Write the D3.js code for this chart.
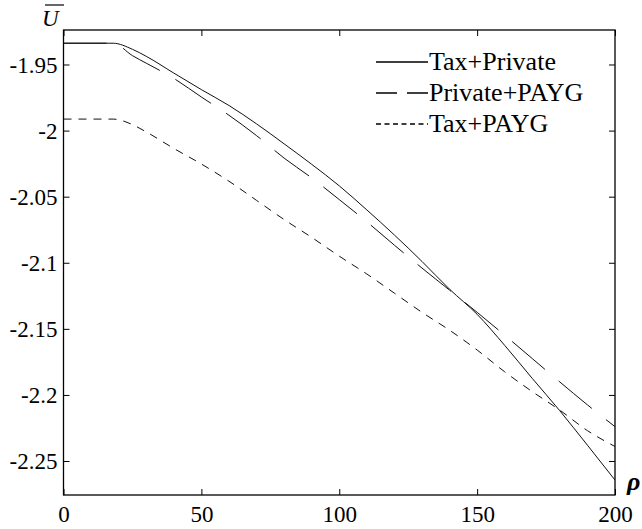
<!DOCTYPE html>
<html>
<head>
<meta charset="utf-8">
<script src="https://cdn.jsdelivr.net/npm/d3@7"></script>
<style>
    body { margin: 0; background: #fff; }
    svg { display: block; font-family: "Liberation Serif", "Times New Roman", Times, serif; }
</style>
</head>
<body>
<div id="chart"></div>
<script>
const rho = [0, 10, 18, 25, 30, 40, 50, 60, 70, 80, 90, 100, 110, 120, 130, 140, 150, 160, 170, 180, 190, 200];

const taxPrivate = [-1.9339, -1.9339, -1.9339, -1.9385, -1.9438, -1.9565, -1.9690, -1.9810, -1.9949, -2.0100,
    -2.0255, -2.0418, -2.0600, -2.0790, -2.0990, -2.1200, -2.1390, -2.1625, -2.1875, -2.2120, -2.2380, -2.2644];
const privatePayg = [-1.9339, -1.9339, -1.9339, -1.9433, -1.9490, -1.9605, -1.9746, -1.9884, -2.0038, -2.0208,
    -2.0358, -2.0522, -2.0690, -2.0867, -2.1040, -2.1207, -2.1375, -2.1548, -2.1725, -2.1902, -2.2075, -2.2240];
const taxPayg = [-1.9913, -1.9913, -1.9913, -1.9955, -2.0010, -2.0135, -2.0253, -2.0383, -2.0528, -2.0673,
    -2.0808, -2.0950, -2.1085, -2.1230, -2.1375, -2.1510, -2.1660, -2.1825, -2.1975, -2.2115, -2.2270, -2.2390];

const xTicks = [0, 50, 100, 150, 200];
const yTicks = [-1.95, -2, -2.05, -2.1, -2.15, -2.2, -2.25];
const seriesNames = ['Tax+Private', 'Private+PAYG', 'Tax+PAYG'];

const width = 642, height = 529;
const margin = { top: 30, right: 27, bottom: 34, left: 63.5 };
const innerW = width - margin.left - margin.right;
const innerH = height - margin.top - margin.bottom;
const font = '"Liberation Serif", "Times New Roman", Times, serif';

const svg = d3.select('#chart')
    .append('svg')
    .attr('width', width)
    .attr('height', height)
    .style('background', '#fff');

const viz = svg.append('g')
    .attr('transform', `translate(${margin.left},${margin.top})`);

const xScale = d3.scaleLinear().domain([0, 200]).range([0, innerW]);
const yScale = d3.scaleLinear().domain([-2.2757, -1.9239]).range([innerH, 0]);

const fmt = d => String(+d.toFixed(2));

// axes, MATLAB style: ticks point inward on all four sides
function styleAxis(g) {
    g.attr('font-family', null).attr('font-size', null);
    g.select('.domain').remove();
    g.selectAll('.tick line').attr('stroke', '#000').attr('stroke-width', 1);
    g.selectAll('.tick text')
        .attr('fill', '#000')
        .style('font-family', font)
        .style('font-size', '23px');
}

viz.append('g')
    .attr('transform', `translate(0,${innerH})`)
    .call(d3.axisBottom(xScale).tickValues(xTicks).tickSize(-6).tickPadding(11).tickFormat(fmt))
    .call(styleAxis);

viz.append('g')
    .call(d3.axisTop(xScale).tickValues(xTicks).tickSize(-6).tickFormat(''))
    .call(styleAxis);

viz.append('g')
    .call(d3.axisLeft(yScale).tickValues(yTicks).tickSize(-6).tickPadding(6).tickFormat(fmt))
    .call(styleAxis)
    .selectAll('.tick text').attr('dy', '0.34em');

viz.append('g')
    .attr('transform', `translate(${innerW},0)`)
    .call(d3.axisRight(yScale).tickValues(yTicks).tickSize(-6).tickFormat(''))
    .call(styleAxis);

viz.append('rect')
    .attr('width', innerW)
    .attr('height', innerH)
    .attr('fill', 'none')
    .attr('stroke', '#000')
    .attr('stroke-width', 1.3);

// the three curves
const styles = [
    { values: taxPrivate, dash: null, legendDash: null },
    { values: privatePayg, dash: '43,18', legendDash: '21,10' },
    { values: taxPayg, dash: '8,7', legendDash: '5,3.5' }
];

const line = d3.line()
    .x((d, i) => xScale(rho[i]))
    .y(d => yScale(d))
    .curve(d3.curveMonotoneX);

viz.selectAll('path.curve')
    .data(styles)
    .join('path')
    .attr('class', 'curve')
    .attr('d', d => line(d.values))
    .attr('fill', 'none')
    .attr('stroke', '#111')
    .attr('stroke-width', 1)
    .attr('stroke-dasharray', d => d.dash);

// legend, no box
const legend = svg.append('g').attr('transform', 'translate(376,62)');
const rows = legend.selectAll('g')
    .data(styles)
    .join('g')
    .attr('transform', (d, i) => `translate(0,${i * 31})`);

rows.append('line')
    .attr('x1', 0).attr('x2', 52)
    .attr('stroke', '#000')
    .attr('stroke-width', 1.5)
    .attr('stroke-dasharray', d => d.legendDash);

rows.append('text')
    .attr('x', 53)
    .attr('y', 8)
    .text((d, i) => seriesNames[i])
    .style('font-family', font)
    .style('font-size', '26px');

// axis labels: U-bar on top of the y axis, rho after the x axis
svg.append('text')
    .attr('x', 42)
    .attr('y', 26)
    .text('U')
    .style('font-family', font)
    .style('font-style', 'italic')
    .style('font-size', '23px');

svg.append('line')
    .attr('x1', 45).attr('x2', 64)
    .attr('y1', 5).attr('y2', 5)
    .attr('stroke', '#000')
    .attr('stroke-width', 1.2);

svg.append('text')
    .attr('x', 627)
    .attr('y', 490)
    .text('ρ')
    .style('font-family', font)
    .style('font-style', 'italic')
    .style('font-weight', 'bold')
    .style('font-size', '26px');
</script>
</body>
</html>
